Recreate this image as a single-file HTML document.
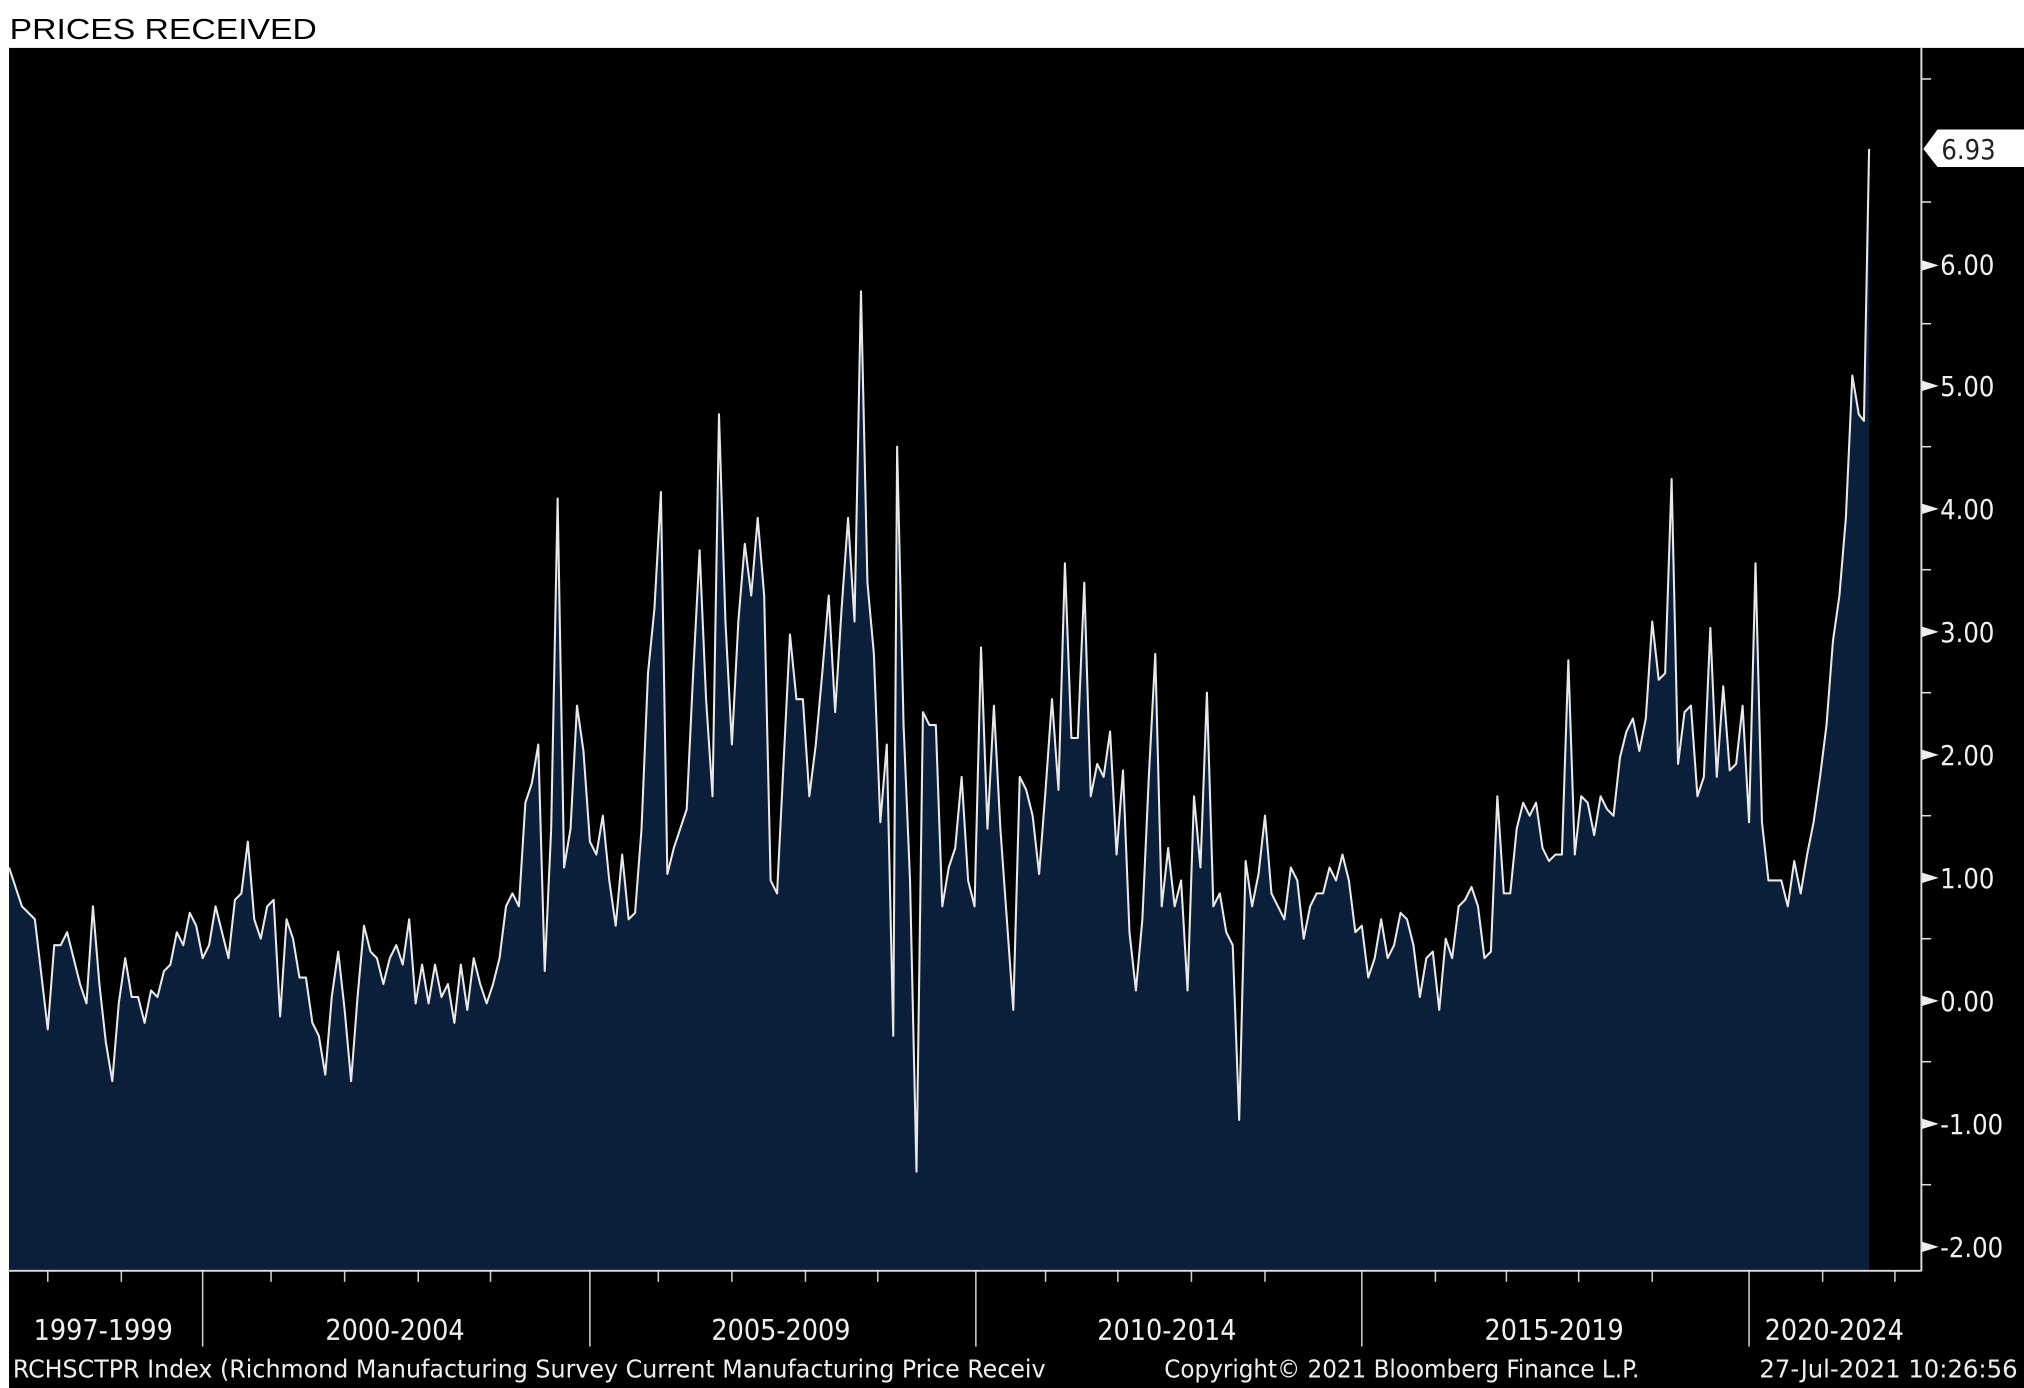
<!DOCTYPE html>
<html><head><meta charset="utf-8"><style>
html,body{margin:0;padding:0;background:#fff;width:2024px;height:1388px;overflow:hidden}
svg{display:block}
text{font-family:"DejaVu Sans Condensed","Liberation Sans Narrow","Liberation Sans",sans-serif}
</style></head><body>
<svg width="2024" height="1388" viewBox="0 0 1568 1072" preserveAspectRatio="none" xmlns="http://www.w3.org/2000/svg">
<rect x="0" y="0" width="1568" height="1072" fill="#fff"/>
<text x="7.5" y="30" font-size="22" fill="#000" textLength="238" lengthAdjust="spacingAndGlyphs" style="font-family:'Liberation Sans',sans-serif">PRICES RECEIVED</text>
<rect x="7" y="37" width="1561" height="1035" fill="#000"/>
<polygon fill="#0c1f3a" points="7,981 7,670 17,700 27,710 37,795 42,730 47,730 52,720 57,740 62,760 67,775 72,700 77,760 82,805 87,835 92,775 97,740 102,770 107,770 112,790 117,765 122,770 127,750 132,745 137,720 142,730 147,705 152,715 157,740 162,730 167,700 172,720 177,740 182,695 187,690 192,650 197,710 202,725 207,700 212,695 217,785 222,710 227,725 232,755 237,755 242,790 247,800 252,830 257,770 262,735 267,780 272,835 277,770 282,715 287,735 292,740 297,760 302,740 307,730 312,745 317,710 322,775 327,745 332,775 337,745 342,770 347,760 352,790 357,745 362,780 367,740 372,760 377,775 382,760 387,740 392,700 397,690 402,700 407,620 412,605 417,575 422,750 427,640 432,385 437,670 442,640 447,545 452,580 457,650 462,660 467,630 472,680 477,715 482,660 487,710 492,705 497,640 502,520 507,470 512,380 517,675 522,655 527,640 532,625 537,520 542,425 547,540 552,615 557,320 562,480 567,575 572,480 577,420 582,460 587,400 592,460 597,680 602,690 607,590 612,490 617,540 622,540 627,615 632,575 637,520 642,460 647,550 652,470 657,400 662,480 667,225 672,450 677,505 682,635 687,575 692,800 695,345 700,560 705,680 710,905 715,550 720,560 725,560 730,700 735,670 740,655 745,600 750,680 755,700 760,500 765,640 770,545 775,640 780,710 785,780 790,600 795,610 800,630 805,675 810,610 815,540 820,610 825,435 830,570 835,570 840,450 845,615 850,590 855,600 860,565 865,660 870,595 875,720 880,765 885,710 890,600 895,505 900,700 905,655 910,700 915,680 920,765 925,615 930,670 935,535 940,700 945,690 950,720 955,730 960,865 965,665 970,700 975,675 980,630 985,690 990,700 995,710 1000,670 1005,680 1010,725 1015,700 1020,690 1025,690 1030,670 1035,680 1040,660 1045,680 1050,720 1055,715 1060,755 1065,740 1070,710 1075,740 1080,730 1085,705 1090,710 1095,730 1100,770 1105,740 1110,735 1115,780 1120,725 1125,740 1130,700 1135,695 1140,685 1145,700 1150,740 1155,735 1160,615 1165,690 1170,690 1175,640 1180,620 1185,630 1190,620 1195,655 1200,665 1205,660 1210,660 1215,510 1220,660 1225,615 1230,620 1235,645 1240,615 1245,625 1250,630 1255,585 1260,565 1265,555 1270,580 1275,555 1280,480 1285,525 1290,520 1295,370 1300,590 1305,550 1310,545 1315,615 1320,600 1325,485 1330,600 1335,530 1340,595 1345,590 1350,545 1355,635 1360,435 1365,635 1370,680 1375,680 1380,680 1385,700 1390,665 1395,690 1400,660 1405,635 1410,600 1415,560 1420,495 1425,460 1430,400 1435,290 1440,320 1444,325 1448,115 1448,981"/>
<polyline fill="none" stroke="#e8e8e8" stroke-width="1.6" stroke-linejoin="round" points="7,670 17,700 27,710 37,795 42,730 47,730 52,720 57,740 62,760 67,775 72,700 77,760 82,805 87,835 92,775 97,740 102,770 107,770 112,790 117,765 122,770 127,750 132,745 137,720 142,730 147,705 152,715 157,740 162,730 167,700 172,720 177,740 182,695 187,690 192,650 197,710 202,725 207,700 212,695 217,785 222,710 227,725 232,755 237,755 242,790 247,800 252,830 257,770 262,735 267,780 272,835 277,770 282,715 287,735 292,740 297,760 302,740 307,730 312,745 317,710 322,775 327,745 332,775 337,745 342,770 347,760 352,790 357,745 362,780 367,740 372,760 377,775 382,760 387,740 392,700 397,690 402,700 407,620 412,605 417,575 422,750 427,640 432,385 437,670 442,640 447,545 452,580 457,650 462,660 467,630 472,680 477,715 482,660 487,710 492,705 497,640 502,520 507,470 512,380 517,675 522,655 527,640 532,625 537,520 542,425 547,540 552,615 557,320 562,480 567,575 572,480 577,420 582,460 587,400 592,460 597,680 602,690 607,590 612,490 617,540 622,540 627,615 632,575 637,520 642,460 647,550 652,470 657,400 662,480 667,225 672,450 677,505 682,635 687,575 692,800 695,345 700,560 705,680 710,905 715,550 720,560 725,560 730,700 735,670 740,655 745,600 750,680 755,700 760,500 765,640 770,545 775,640 780,710 785,780 790,600 795,610 800,630 805,675 810,610 815,540 820,610 825,435 830,570 835,570 840,450 845,615 850,590 855,600 860,565 865,660 870,595 875,720 880,765 885,710 890,600 895,505 900,700 905,655 910,700 915,680 920,765 925,615 930,670 935,535 940,700 945,690 950,720 955,730 960,865 965,665 970,700 975,675 980,630 985,690 990,700 995,710 1000,670 1005,680 1010,725 1015,700 1020,690 1025,690 1030,670 1035,680 1040,660 1045,680 1050,720 1055,715 1060,755 1065,740 1070,710 1075,740 1080,730 1085,705 1090,710 1095,730 1100,770 1105,740 1110,735 1115,780 1120,725 1125,740 1130,700 1135,695 1140,685 1145,700 1150,740 1155,735 1160,615 1165,690 1170,690 1175,640 1180,620 1185,630 1190,620 1195,655 1200,665 1205,660 1210,660 1215,510 1220,660 1225,615 1230,620 1235,645 1240,615 1245,625 1250,630 1255,585 1260,565 1265,555 1270,580 1275,555 1280,480 1285,525 1290,520 1295,370 1300,590 1305,550 1310,545 1315,615 1320,600 1325,485 1330,600 1335,530 1340,595 1345,590 1350,545 1355,635 1360,435 1365,635 1370,680 1375,680 1380,680 1385,700 1390,665 1395,690 1400,660 1405,635 1410,600 1415,560 1420,495 1425,460 1430,400 1435,290 1440,320 1444,325 1448,115"/>
<line x1="7" y1="981.5" x2="1488" y2="981.5" stroke="#ddd" stroke-width="1.5"/>
<line x1="1488.5" y1="37" x2="1488.5" y2="982" stroke="#ddd" stroke-width="1.5"/>
<g stroke="#ddd" stroke-width="1.2">
<line x1="1488" y1="61" x2="1496" y2="61"/><line x1="1488" y1="156" x2="1496" y2="156"/>
<line x1="1488" y1="250" x2="1496" y2="250"/><line x1="1488" y1="345" x2="1496" y2="345"/>
<line x1="1488" y1="440" x2="1496" y2="440"/><line x1="1488" y1="535" x2="1496" y2="535"/>
<line x1="1488" y1="630" x2="1496" y2="630"/><line x1="1488" y1="725" x2="1496" y2="725"/>
<line x1="1488" y1="820" x2="1496" y2="820"/><line x1="1488" y1="915" x2="1496" y2="915"/>
</g>
<g fill="#eee">
<polygon points="1489,201 1489,209 1502,205"/><polygon points="1489,294 1489,302 1502,298"/>
<polygon points="1489,389 1489,397 1502,393"/><polygon points="1489,484 1489,492 1502,488"/>
<polygon points="1489,579 1489,587 1502,583"/><polygon points="1489,674 1489,682 1502,678"/>
<polygon points="1489,769 1489,777 1502,773"/><polygon points="1489,864 1489,872 1502,868"/>
<polygon points="1489,959 1489,967 1502,963"/>
</g>
<g fill="#f0f0f0" font-size="21">
<text x="1503" y="212">6.00</text><text x="1503" y="306">5.00</text><text x="1503" y="401">4.00</text>
<text x="1503" y="496">3.00</text><text x="1503" y="591">2.00</text><text x="1503" y="686">1.00</text>
<text x="1503" y="781">0.00</text><text x="1503" y="876">-1.00</text><text x="1503" y="971">-2.00</text>
</g>
<polygon points="1490,115 1501,100 1568,100 1568,129 1501,129" fill="#fff"/>
<text x="1504" y="123" font-size="21" fill="#222">6.93</text>
<g stroke="#ccc" stroke-width="1.2">
<line x1="157" y1="982" x2="157" y2="1040"/><line x1="457" y1="982" x2="457" y2="1040"/>
<line x1="756" y1="982" x2="756" y2="1040"/><line x1="1055" y1="982" x2="1055" y2="1040"/>
<line x1="1355" y1="982" x2="1355" y2="1040"/>
</g>
<g stroke="#ccc" stroke-width="1.2">
<line x1="37" y1="982" x2="37" y2="990"/><line x1="94" y1="982" x2="94" y2="990"/>
<line x1="210" y1="982" x2="210" y2="990"/><line x1="267" y1="982" x2="267" y2="990"/><line x1="324" y1="982" x2="324" y2="990"/><line x1="380" y1="982" x2="380" y2="990"/>
<line x1="510" y1="982" x2="510" y2="990"/><line x1="567" y1="982" x2="567" y2="990"/><line x1="624" y1="982" x2="624" y2="990"/><line x1="680" y1="982" x2="680" y2="990"/>
<line x1="810" y1="982" x2="810" y2="990"/><line x1="866" y1="982" x2="866" y2="990"/><line x1="923" y1="982" x2="923" y2="990"/><line x1="980" y1="982" x2="980" y2="990"/>
<line x1="1112" y1="982" x2="1112" y2="990"/><line x1="1167" y1="982" x2="1167" y2="990"/><line x1="1223" y1="982" x2="1223" y2="990"/><line x1="1280" y1="982" x2="1280" y2="990"/>
<line x1="1412" y1="982" x2="1412" y2="990"/><line x1="1468" y1="982" x2="1468" y2="990"/>
</g>
<g fill="#f0f0f0" font-size="22" text-anchor="middle">
<text x="80" y="1035">1997-1999</text><text x="306" y="1035">2000-2004</text>
<text x="605" y="1035">2005-2009</text><text x="904" y="1035">2010-2014</text>
<text x="1204" y="1035">2015-2019</text><text x="1421" y="1035">2020-2024</text>
</g>
<g fill="#eee" font-size="19">
<text x="10" y="1064" textLength="800" lengthAdjust="spacingAndGlyphs">RCHSCTPR Index (Richmond Manufacturing Survey Current Manufacturing Price Receiv</text>
<text x="902" y="1064" textLength="368" lengthAdjust="spacingAndGlyphs">Copyright© 2021 Bloomberg Finance L.P.</text>
<text x="1363" y="1064" textLength="200" lengthAdjust="spacingAndGlyphs">27-Jul-2021 10:26:56</text>
</g>
</svg>
</body></html>
